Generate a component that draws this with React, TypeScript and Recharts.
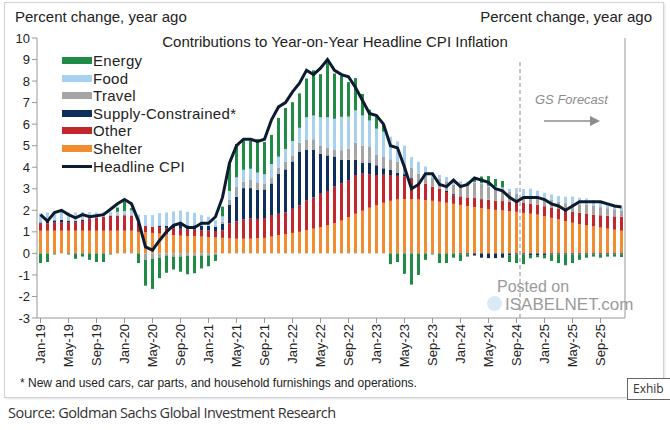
import { ComposedChart, Bar, Line, XAxis, YAxis, ReferenceLine } from "recharts";

const MONTHS = ["Jan", "Feb", "Mar", "Apr", "May", "Jun", "Jul", "Aug", "Sep", "Oct", "Nov", "Dec"];
const YEARS = ["19", "20", "21", "22", "23", "24", "25"];
const categories = YEARS.flatMap((y) => MONTHS.map((m) => `${m}-${y}`));

// contributions, percentage points (Jan-19 .. Dec-25)
const shelter = [
  1.05, 1.05, 1.05, 1.05, 1.05, 1.05, 1.05, 1.05, 1.05, 1.05, 1.05, 1.05,
  1.05, 1.05, 1.0, 0.98, 0.95, 0.92, 0.88, 0.85, 0.82, 0.8, 0.8, 0.78,
  0.76, 0.74, 0.72, 0.7, 0.68, 0.68, 0.68, 0.7, 0.72, 0.78, 0.84, 0.9,
  0.95, 1.0, 1.07, 1.15, 1.22, 1.3, 1.4, 1.52, 1.68, 1.84, 1.98, 2.12,
  2.24, 2.35, 2.44, 2.5, 2.52, 2.52, 2.5, 2.47, 2.44, 2.4, 2.35, 2.3,
  2.25, 2.2, 2.15, 2.1, 2.06, 2.02, 1.99, 1.96, 1.93, 1.88, 1.84, 1.8,
  1.72, 1.65, 1.58, 1.5, 1.42, 1.36, 1.3, 1.25, 1.2, 1.15, 1.1, 1.05,
];
const other = [
  0.33, 0.35, 0.38, 0.4, 0.38, 0.4, 0.45, 0.55, 0.6, 0.65, 0.7, 0.7,
  0.72, 0.7, 0.45, 0.3, 0.28, 0.3, 0.3, 0.32, 0.32, 0.3, 0.3, 0.3,
  0.3, 0.3, 0.35, 0.7, 0.8, 0.9, 0.95, 0.9, 0.92, 1.0, 1.0, 1.0,
  1.12, 1.23, 1.4, 1.45, 1.55, 1.6, 1.7, 1.72, 1.72, 1.8, 1.72, 1.55,
  1.4, 1.3, 1.2, 1.1, 1.06, 0.95, 0.8, 0.77, 0.66, 0.6, 0.5, 0.4,
  0.4, 0.4, 0.42, 0.42, 0.43, 0.43, 0.44, 0.44, 0.45, 0.46, 0.46, 0.46,
  0.47, 0.48, 0.48, 0.48, 0.5, 0.52, 0.53, 0.55, 0.57, 0.6, 0.62, 0.65,
];
const supplyConstrained = [
  0.05, 0.08, 0.1, 0.1, 0.08, 0.05, 0.05, 0.03, 0.02, 0, 0, 0,
  0, 0, 0, 0, 0, 0.05, 0.1, 0.15, 0.2, 0.2, 0.2, 0.2,
  0.22, 0.2, 0.3, 0.85, 1.15, 1.45, 1.4, 1.35, 1.33, 1.47, 1.85, 2.0,
  2.2, 2.5, 2.35, 2.2, 1.85, 1.65, 1.4, 1.1, 0.95, 0.7, 0.5, 0.55,
  0.45, 0.3, 0.23, 0.15, 0.1, 0.05, 0, 0, 0, 0, 0.05, 0.05,
  -0.05, -0.05, -0.1, -0.2, -0.22, -0.22, -0.2, -0.1, -0.05, -0.05, -0.08, -0.08,
  -0.08, -0.05, -0.05, -0.05, -0.05, -0.05, -0.05, -0.05, -0.05, -0.05, -0.05, -0.05,
];
const travel = [
  0.03, 0.03, 0.03, 0.03, 0.03, 0.03, 0.03, 0.03, 0.03, 0.03, 0.03, 0.03,
  0.05, 0.05, 0, -0.3, -0.25, -0.2, -0.1, -0.15, -0.15, -0.12, -0.12, -0.1,
  -0.1, -0.05, 0.1, 0.25, 0.45, 0.3, 0.4, 0.35, 0.25, 0.25, 0.3, 0.35,
  0.25, 0.4, 0.45, 0.5, 0.4, 0.37, 0.3, 0.45, 0.5, 0.8, 0.8, 0.75,
  0.5, 0.55, 0.5, 0.5, 0.5, 0.45, 0.4, 0.45, 0.4, 0.45, 0.45, 0.45,
  0.6, 0.65, 0.7, 0.7, 0.6, 0.6, 0.55, 0.45, 0.4, 0.3, 0.35, 0.35,
  0.35, 0.35, 0.35, 0.35, 0.4, 0.4, 0.42, 0.4, 0.38, 0.35, 0.33, 0.3,
];
const food = [
  0.4, 0.39, 0.34, 0.32, 0.36, 0.37, 0.35, 0.25, 0.2, 0.2, 0.15, 0.15,
  0.15, 0.2, 0.35, 0.5, 0.55, 0.6, 0.62, 0.63, 0.65, 0.63, 0.58, 0.5,
  0.42, 0.3, 0.25, 0.4, 0.45, 0.55, 0.5, 0.45, 0.45, 0.65, 0.5, 0.6,
  0.7, 0.7, 1.05, 1.1, 1.3, 1.4, 1.45, 1.55, 1.5, 1.5, 1.4, 1.2,
  1.2, 1.15, 1.05, 0.95, 0.82, 0.5, 0.55, 0.35, 0.28, 0.2, 0.2, 0.15,
  0.1, 0.1, 0.05, 0.05, 0.05, 0.05, 0.08, 0.15, 0.25, 0.35, 0.35, 0.3,
  0.27, 0.26, 0.25, 0.3, 0.32, 0.3, 0.3, 0.28, 0.25, 0.22, 0.2, 0.15,
];
const energy = [
  -0.45, -0.4, -0.05, 0.05, -0.05, -0.25, -0.15, -0.3, -0.4, -0.4, -0.05, 0.2,
  0.45, 0.1, -0.45, -1.2, -1.4, -0.95, -0.8, -0.6, -0.7, -0.85, -0.8, -0.6,
  -0.5, -0.3, 0.45, 1.25, 1.55, 1.35, 1.3, 1.55, 1.5, 1.35, 1.8, 1.9,
  1.8, 1.6, 1.8, 2.1, 2.0, 2.6, 2.1, 1.9, 1.6, 1.5, 1.0, 0.5,
  0.55, 0.35, -0.5, -0.4, -0.95, -1.45, -1.0, -0.3, -0.05, -0.45, -0.45, -0.2,
  -0.3, -0.1, 0.15, 0.3, 0.45, 0.35, 0.3, -0.3, -0.4, -0.45, -0.15, -0.1,
  -0.15, -0.3, -0.4, -0.5, -0.4, -0.25, -0.15, -0.1, -0.15, -0.1, -0.1, -0.12,
];
const headline = [
  1.8, 1.5, 1.9, 2.0, 1.8, 1.65, 1.8, 1.7, 1.75, 1.8, 2.05, 2.3,
  2.5, 2.3, 1.5, 0.3, 0.15, 0.6, 1.0, 1.3, 1.4, 1.2, 1.2, 1.4,
  1.4, 1.7, 2.6, 4.2, 5.0, 5.3, 5.3, 5.2, 5.3, 6.2, 6.8, 7.0,
  7.5, 7.9, 8.5, 8.3, 8.6, 9.0, 8.5, 8.3, 8.2, 7.7, 7.1, 6.5,
  6.4, 6.0, 5.0, 4.9, 4.0, 3.0, 3.2, 3.7, 3.7, 3.2, 3.1, 3.4,
  3.1, 3.2, 3.5, 3.4, 3.3, 3.0, 2.9, 2.6, 2.4, 2.6, 2.6, 2.6,
  2.5, 2.3, 2.2, 2.0, 2.2, 2.4, 2.4, 2.4, 2.4, 2.3, 2.2, 2.15,
];
const yTicks = [-3, -2, -1, 0, 1, 2, 3, 4, 5, 6, 7, 8, 9, 10];

const data = categories.map((month, i) => ({
  month,
  shelter: shelter[i],
  other: other[i],
  supply: supplyConstrained[i],
  travel: travel[i],
  food: food[i],
  energy: energy[i],
  headline: headline[i],
}));

const C = {
  energy: "#1f8b45",
  food: "#a8d1f1",
  travel: "#a5a5a5",
  supply: "#0e2f5e",
  other: "#c3272d",
  shelter: "#f28c30",
  line: "#0d1b30",
};

const LEGEND = [
  { label: "Energy", color: C.energy },
  { label: "Food", color: C.food },
  { label: "Travel", color: C.travel },
  { label: "Supply-Constrained*", color: C.supply },
  { label: "Other", color: C.other },
  { label: "Shelter", color: C.shelter },
];

const FONT = '"Liberation Sans", Arial, sans-serif';

const XTick = ({ x, y, payload }: any) => (
  <text
    transform={`translate(${x},${y - 1}) rotate(-90)`}
    textAnchor="end"
    dominantBaseline="central"
    fontSize={13}
    fontFamily={FONT}
    fill="#222"
  >
    {payload.value}
  </text>
);

export default function App() {
  const axisTick = { fontSize: 13, fill: "#222", fontFamily: FONT };
  return (
    <div style={{ position: "absolute", left: 0, top: 0, width: 670, height: 430, background: "#fff", fontFamily: FONT, overflow: "hidden" }}>
      <div style={{ position: "absolute", left: 4, top: 2, width: 658, height: 394, border: "1px solid #cfd3d8", boxShadow: "1px 1px 2px #e2e4e8" }} />

      <ComposedChart
        width={670}
        height={430}
        data={data}
        stackOffset="sign"
        barCategoryGap={2}
        margin={{ top: 38, right: 5, bottom: 52, left: 7 }}
        style={{ position: "absolute", left: 0, top: 0 }}
      >
        <XAxis
          dataKey="month"
          interval={3}
          tick={<XTick />}
          tickSize={5}
          height={60}
          stroke="#999"
          yAxisId="left"
        />
        <YAxis
          yAxisId="left"
          domain={[-3, 10]}
          ticks={yTicks}
          interval={0}
          width={30}
          tickSize={5}
          stroke="#999"
          tick={axisTick}
        />
        <YAxis
          yAxisId="right"
          orientation="right"
          domain={[-3, 10]}
          ticks={yTicks}
          interval={0}
          width={40}
          tickSize={5}
          stroke="#999"
          tick={axisTick}
        />
        <Bar yAxisId="left" dataKey="shelter" stackId="a" fill={C.shelter} isAnimationActive={false} />
        <Bar yAxisId="left" dataKey="other" stackId="a" fill={C.other} isAnimationActive={false} />
        <Bar yAxisId="left" dataKey="supply" stackId="a" fill={C.supply} isAnimationActive={false} />
        <Bar yAxisId="left" dataKey="travel" stackId="a" fill={C.travel} isAnimationActive={false} />
        <Bar yAxisId="left" dataKey="food" stackId="a" fill={C.food} isAnimationActive={false} />
        <Bar yAxisId="left" dataKey="energy" stackId="a" fill={C.energy} isAnimationActive={false} />
        <ReferenceLine
          yAxisId="left"
          segment={[{ x: "Oct-24", y: -3 }, { x: "Oct-24", y: 8.9 }]}
          position="start"
          stroke="#8a8a8a"
          strokeDasharray="4 3"
        />
        <Line
          yAxisId="left"
          dataKey="headline"
          type="linear"
          stroke={C.line}
          strokeWidth={3}
          dot={false}
          isAnimationActive={false}
        />
      </ComposedChart>

      <div style={{ position: "absolute", left: 15, top: 8, fontSize: 15, color: "#222" }}>Percent change, year ago</div>
      <div style={{ position: "absolute", right: 18, top: 8, fontSize: 15, color: "#222" }}>Percent change, year ago</div>
      <div style={{ position: "absolute", left: 0, width: 670, top: 33, textAlign: "center", fontSize: 15, color: "#222" }}>
        Contributions to Year-on-Year Headline CPI Inflation
      </div>

      {LEGEND.map((l, i) => (
        <div key={l.label} style={{ position: "absolute", left: 62, top: 52 + i * 17.6, height: 17, display: "flex", alignItems: "center" }}>
          <div style={{ width: 30, height: 7, background: l.color, marginRight: 1 }} />
          <span style={{ fontSize: 15, letterSpacing: 0.3, color: "#222" }}>{l.label}</span>
        </div>
      ))}
      <div style={{ position: "absolute", left: 62, top: 52 + 6 * 17.6, height: 17, display: "flex", alignItems: "center" }}>
        <div style={{ width: 30, height: 3, background: C.line, marginRight: 1 }} />
        <span style={{ fontSize: 15, letterSpacing: 0.3, color: "#222" }}>Headline CPI</span>
      </div>

      <div style={{ position: "absolute", left: 535, top: 92, fontSize: 13, fontStyle: "italic", color: "#8c8c8c" }}>GS Forecast</div>
      <svg style={{ position: "absolute", left: 540, top: 114 }} width={64} height={14}>
        <line x1={4} y1={7} x2={50} y2={7} stroke="#8c8c8c" strokeWidth={1.5} />
        <polygon points="50,2 60,7 50,12" fill="#8c8c8c" />
      </svg>

      <div style={{ position: "absolute", left: 497, top: 278, fontSize: 16, color: "#9a9a9a" }}>Posted on</div>
      <div style={{ position: "absolute", left: 487, top: 296, width: 15, height: 15, borderRadius: 8, background: "#cfe4f3", opacity: 0.8 }} />
      <div style={{ position: "absolute", left: 505, top: 295, fontSize: 17, color: "#9a9a9a" }}>ISABELNET.com</div>

      <div style={{ position: "absolute", left: 20, top: 376, fontSize: 12, color: "#222" }}>
        * New and used cars, car parts, and household furnishings and operations.
      </div>
      <div style={{ position: "absolute", left: 627, top: 378, width: 50, height: 20, border: "1px solid #666", background: "#fff", fontSize: 12, lineHeight: "20px", paddingLeft: 5, color: "#333", fontFamily: '"Open Sans", sans-serif' }}>
        Exhib
      </div>
      <div style={{ position: "absolute", left: 8, top: 403, fontSize: 14.5, color: "#333", fontFamily: '"Open Sans", sans-serif', letterSpacing: -0.5 }}>
        Source: Goldman Sachs Global Investment Research
      </div>
    </div>
  );
}
